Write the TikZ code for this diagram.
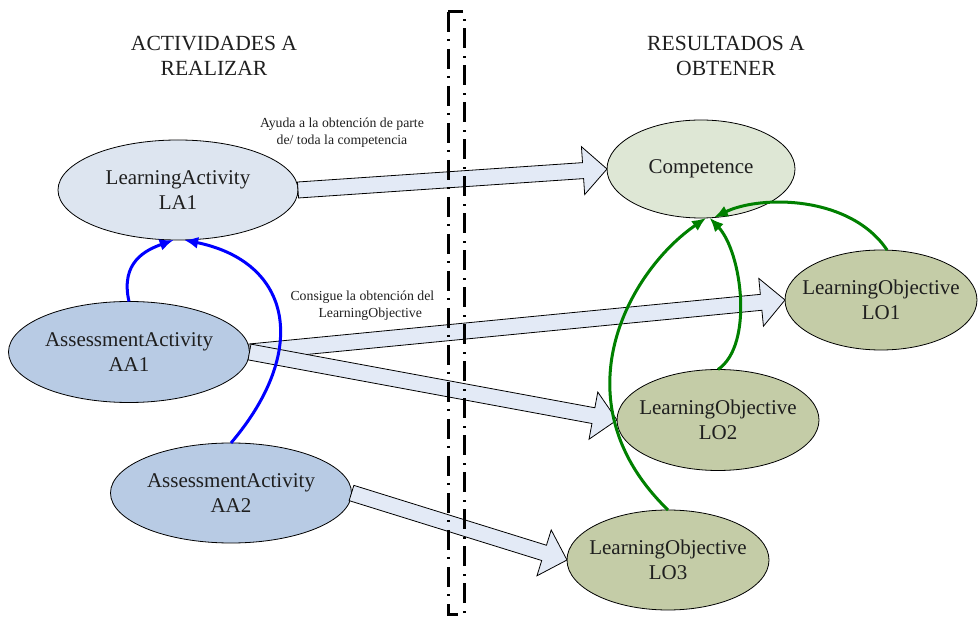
\documentclass[tikz,border=0pt]{standalone}
\usepackage{fontspec}
\setmainfont{Liberation Serif}
\usetikzlibrary{shapes.geometric,arrows.meta,calc}

\definecolor{lafill}{HTML}{DDE5F0}
\definecolor{aafill}{HTML}{B8CBE4}
\definecolor{compfill}{HTML}{DEE7D5}
\definecolor{lofill}{HTML}{C4CCA7}
\definecolor{shaftfill}{HTML}{E3EAF6}
\definecolor{linkblue}{HTML}{0000FF}
\definecolor{linkgreen}{HTML}{008000}

\begin{document}
\begin{tikzpicture}[x=1pt,y=-1pt,
  oval/.style={ellipse, draw=black, line width=0.8pt, inner sep=0pt, outer sep=0pt},
  ovaltext/.style={font=\fontsize{21}{25}\selectfont, align=center, text=black!88},
  heading/.style={font=\fontsize{21.6}{25}\selectfont, align=center, text=black!88},
  note/.style={font=\fontsize{13.8}{17}\selectfont, text=black!88},
  % wide outlined arrow: shaft 16pt, head 48pt wide and 24pt long
  block/.style={draw=black, line width=0.8pt, fill=shaftfill, line join=miter,
    to path={
      ($(\tikztotarget)!24pt!(\tikztostart)$) coordinate (bh)
      ($(\tikztostart)!8pt!90:(\tikztotarget)$)
      -- ($(bh)!8pt!90:(\tikztotarget)$)
      -- ($(bh)!24pt!90:(\tikztotarget)$)
      -- (\tikztotarget)
      -- ($(bh)!24pt!-90:(\tikztotarget)$)
      -- ($(bh)!8pt!-90:(\tikztotarget)$)
      -- ($(\tikztostart)!8pt!-90:(\tikztotarget)$)
      -- cycle}},
  bluelink/.style={draw=linkblue, line width=3pt, -{Latex[length=14pt,width=12pt]}},
  greenlink/.style={draw=linkgreen, line width=3pt, -{Latex[length=14pt,width=12pt]}},
  divider/.style={draw=black, line width=3pt, dash pattern=on 20pt off 7pt on 2pt off 8pt}
]
\useasboundingbox (0,0) rectangle (978,617);

% column headings
\node[heading] (hleft) at (214,56) {ACTIVIDADES A\\REALIZAR};
\node[heading] (hright) at (726,56) {RESULTADOS A\\OBTENER};

% activities
\node[oval, fill=lafill, minimum width=240pt, minimum height=100pt,
  label={[ovaltext]center:LearningActivity\\LA1}] (la1) at (178,190) {};
\node[oval, fill=aafill, minimum width=241pt, minimum height=101pt,
  label={[ovaltext]center:AssessmentActivity\\AA1}] (aa1) at (129,352) {};
\node[oval, fill=aafill, minimum width=241pt, minimum height=100pt,
  label={[ovaltext]center:AssessmentActivity\\AA2}] (aa2) at (231,493) {};

% results
\node[oval, fill=compfill, minimum width=188pt, minimum height=98pt,
  label={[ovaltext]center:Competence}] (comp) at (701,169) {};
\node[oval, fill=lofill, minimum width=192pt, minimum height=100pt,
  label={[ovaltext]center:LearningObjective\\LO1}] (lo1) at (881,300) {};
\node[oval, fill=lofill, minimum width=202pt, minimum height=101pt,
  label={[ovaltext]center:LearningObjective\\LO2}] (lo2) at (718,420) {};
\node[oval, fill=lofill, minimum width=202pt, minimum height=100pt,
  label={[ovaltext]center:LearningObjective\\LO3}] (lo3) at (668,560) {};

% block arrows between the two columns
\draw[block] (la1.east) to (comp.west);
\draw[block] (aa1.east) to (lo1.west);
\draw[block] (aa1.east) to (lo2.west);
\draw[block] (aa2.east) to (lo3.west);

% arrow labels
\node[note, align=center] (ayuda) at (342,133) {Ayuda a la obtención de parte\\de/ toda la competencia};
\node[note, align=left, anchor=west] (consigue) at (287,306) {Consigue la obtención del\\\hspace*{28pt}LearningObjective};

% separator between activities and results
\draw[divider] (448,12) -- (448,614) -- (464,614) -- (464,12) -- cycle;

% assessment activities feeding the learning activity
\draw[bluelink] (aa1.north) .. controls (120,262) and (146,250) .. (la1.265);
\draw[bluelink] (aa2.north) .. controls (310,350) and (292,262) .. (la1.277);

% learning objectives feeding the competence
\draw[greenlink] (lo1.83) .. controls (850,195) and (760,195) .. (comp.285);
\draw[greenlink] (lo2.north) .. controls (754,345) and (742,252) .. (comp.280);
\draw[greenlink] (lo3.north) .. controls (555,400) and (630,270) .. (comp.276);
\end{tikzpicture}
\end{document}
